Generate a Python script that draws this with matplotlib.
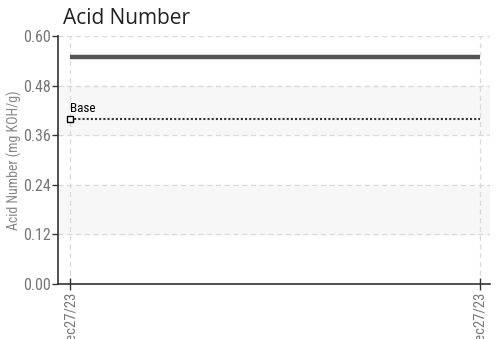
import matplotlib.pyplot as plt
import matplotlib.font_manager as fm

# data
dates = ["Dec27/23", "Dec27/23"]
acid_values = [0.55, 0.55]
base_value = 0.40
yticks = [0.00, 0.12, 0.24, 0.36, 0.48, 0.60]
bands = [(0.12, 0.24), (0.36, 0.48)]

# pick a condensed font if one is installed
names = {f.name for f in fm.fontManager.ttflist}
narrow = "DejaVu Sans"
for cand in ["Roboto Condensed", "Open Sans Condensed", "Sofia Sans Condensed",
             "Saira SemiCondensed", "Liberation Sans Narrow"]:
    if cand in names:
        narrow = cand
        break

fig = plt.figure(figsize=(4.96, 3.39), dpi=100)
ax = fig.add_axes([0.117, 0.162, 0.871, 0.732])

x = list(range(len(dates)))

# shaded bands
for lo, hi in bands:
    ax.axhspan(lo, hi, color="#f7f7f7", zorder=0)

ax.plot(x, acid_values, color="#555555", lw=3.2, solid_capstyle="butt", zorder=3)
ax.plot(x, [base_value] * len(x), color="#333333", lw=1.5, ls=(0, (1, 1)), zorder=3)
ax.plot([x[0]], [base_value], marker="s", ms=4, mfc="white", mec="black", mew=1, zorder=4)
ax.text(x[0], base_value + 0.01, "Base", fontsize=9.5, family=narrow, color="black",
        va="bottom", ha="left")

ax.set_xlim(-0.03, 1.025)
ax.set_ylim(0, 0.60)
ax.set_yticks(yticks)
ax.set_yticklabels([f"{v:.2f}" for v in yticks])
ax.set_xticks(x)
ax.set_xticklabels(dates, rotation=90)

ax.grid(True, color="#d9d9d9", ls=(0, (4, 3)), lw=0.9)
ax.set_axisbelow(True)

for s in ["top", "right"]:
    ax.spines[s].set_visible(False)
for s in ["left", "bottom"]:
    ax.spines[s].set_color("#333333")
    ax.spines[s].set_linewidth(1.2)

ax.tick_params(axis="y", direction="out", length=4, width=1, colors="#333333",
               labelcolor="#777777", labelsize=11.5, pad=1)
ax.tick_params(axis="x", direction="inout", length=8, width=1, colors="#333333",
               labelcolor="#777777", labelsize=10.5, pad=1)
for lab in ax.get_xticklabels() + ax.get_yticklabels():
    lab.set_family(narrow)

ax.set_ylabel("Acid Number (mg KOH/g)", fontsize=10, color="#888888", family=narrow, labelpad=1)
fig.text(0.127, 0.913, "Acid Number", fontsize=15, color="#222222", family="Open Sans",
         ha="left", va="bottom")

fig.savefig("out.png", dpi=100)
